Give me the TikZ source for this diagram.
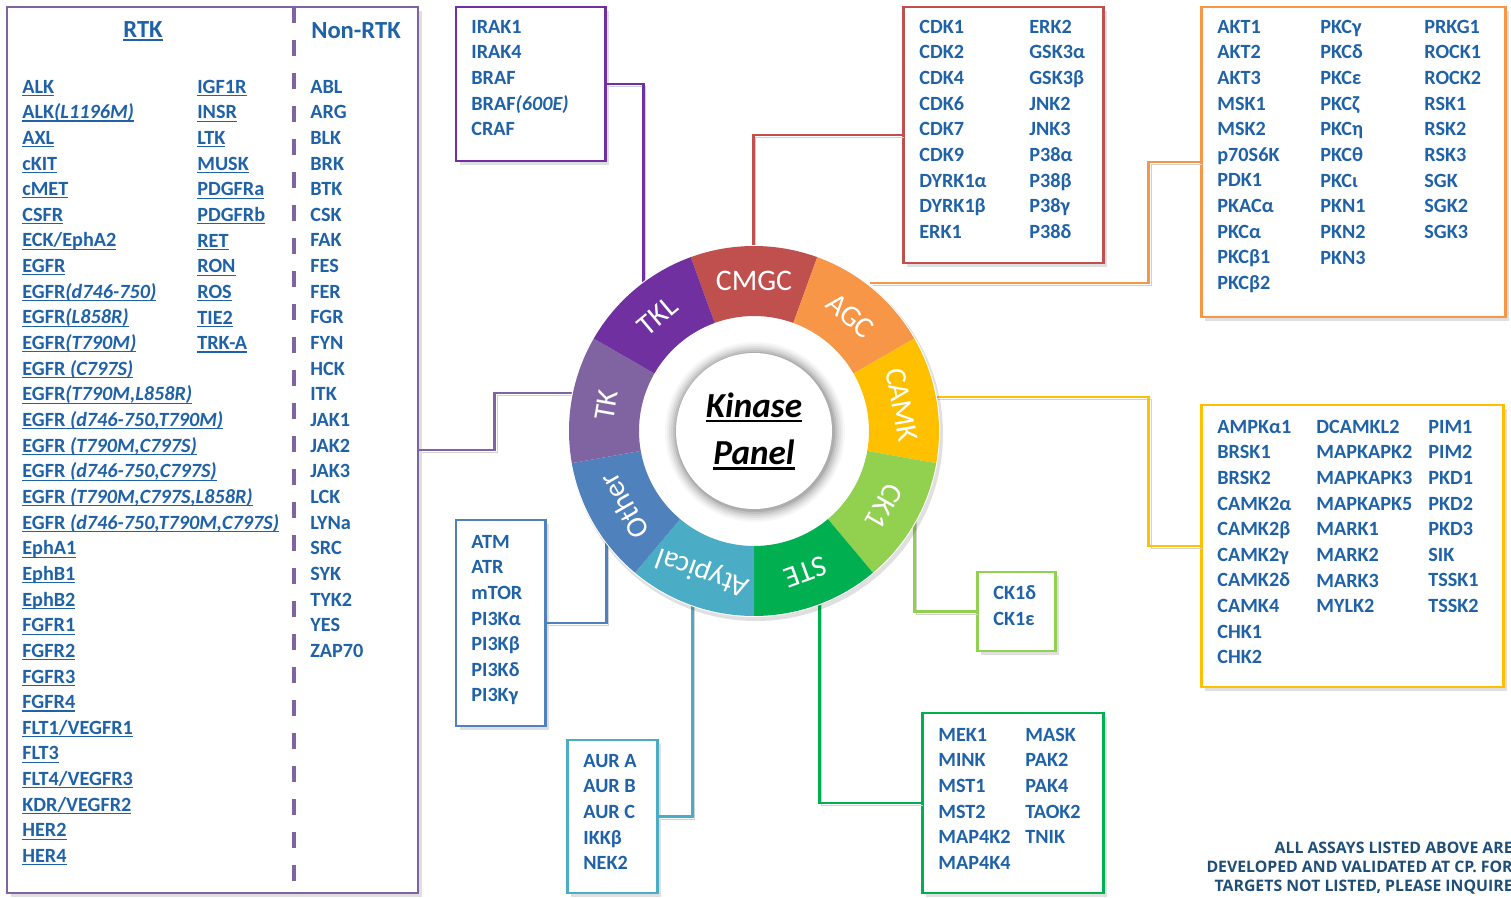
\documentclass[tikz,border=0pt]{standalone}
\usepackage{fontspec}
\setmainfont{Carlito}
\newfontfamily\notefont{Open Sans}
\usetikzlibrary{fit,shadows}
\definecolor{ink}{HTML}{1F62A8}
\definecolor{noteink}{HTML}{1F4E79}
\definecolor{tklc}{HTML}{7030A0}
\definecolor{cmgcc}{HTML}{C0504D}
\definecolor{agcc}{HTML}{F79646}
\definecolor{camkc}{HTML}{FFC000}
\definecolor{ckc}{HTML}{92D050}
\definecolor{stec}{HTML}{00B050}
\definecolor{atyc}{HTML}{4BACC6}
\definecolor{othc}{HTML}{4F81BD}
\definecolor{tkc}{HTML}{8064A2}
\newcommand{\listfont}{\fontsize{11.5}{14.6}\selectfont\bfseries}
% underline of fixed depth
\newcommand{\uln}[2][0.6pt]{\setbox0=\hbox{#2}\rlap{\rule[-0.14em]{\wd0}{#1}}\box0}

\begin{document}
\begin{tikzpicture}[x=0.02cm,y=-0.02cm,
  box/.style={draw=#1,line width=1.7pt,fill=white,inner sep=0pt,
    drop shadow={opacity=0.25,shadow xshift=2pt,shadow yshift=-2pt}},
  items/.style={anchor=north west,inner sep=0pt,align=left,font=\listfont,text=ink,
    yshift=0.128cm,execute at begin node=\strut},
  head/.style={font=\fontsize{14}{16}\selectfont\bfseries,text=ink,inner sep=0pt},
  link/.style={line width=1.7pt,preaction={draw=black!18,transform canvas={shift={(1.5pt,-1.5pt)}}}},
  seglab/.style={text=white,font=\fontsize{17}{20}\selectfont,inner sep=0pt}]
  \useasboundingbox[fill=white] (0,0) rectangle (1511,898);

  % ---- RTK / Non-RTK panel ----
  \node[box=tkc,fit={(7,7) (418,893)}] (rtk) {};
  \draw[tkc,line width=2.2pt,dash pattern=on 0.32cm off 0.34cm] (294,7) -- (294,893);
  \node[head] (rtkhead) at (143,31) {\uln[0.8pt]{RTK}};
  \node[head] (nonrtkhead) at (356,31) {Non-RTK};
  \node[items] (rtkA) at (22,86) {\uln{ALK}\\\uln{ALK\textit{(L1196M)}}\\\uln{AXL}\\\uln{cKIT}\\\uln{cMET}\\\uln{CSFR}\\\uln{ECK/EphA2}\\\uln{EGFR}\\\uln{EGFR\textit{(d746-750)}}\\\uln{EGFR\textit{(L858R)}}\\\uln{EGFR\textit{(T790M)}}\\\uln{EGFR \textit{(C797S)}}\\\uln{EGFR\textit{(T790M,L858R)}}\\\uln{EGFR \textit{(d746-750,T790M)}}\\\uln{EGFR \textit{(T790M,C797S)}}\\\uln{EGFR \textit{(d746-750,C797S)}}\\\uln{EGFR \textit{(T790M,C797S,L858R)}}\\\uln{EGFR \textit{(d746-750,T790M,C797S)}}\\\uln{EphA1}\\\uln{EphB1}\\\uln{EphB2}\\\uln{FGFR1}\\\uln{FGFR2}\\\uln{FGFR3}\\\uln{FGFR4}\\\uln{FLT1/VEGFR1}\\\uln{FLT3}\\\uln{FLT4/VEGFR3}\\\uln{KDR/VEGFR2}\\\uln{HER2}\\\uln{HER4}};
  \node[items] (rtkB) at (197,86) {\uln{IGF1R}\\\uln{INSR}\\\uln{LTK}\\\uln{MUSK}\\\uln{PDGFRa}\\\uln{PDGFRb}\\\uln{RET}\\\uln{RON}\\\uln{ROS}\\\uln{TIE2}\\\uln{TRK-A}};
  \node[items] (nonrtk) at (310,86) {ABL\\ARG\\BLK\\BRK\\BTK\\CSK\\FAK\\FES\\FER\\FGR\\FYN\\HCK\\ITK\\JAK1\\JAK2\\JAK3\\LCK\\LYNa\\SRC\\SYK\\TYK2\\YES\\ZAP70};

  % ---- family boxes ----
  \node[box=tklc,fit={(456,7) (605,161)}] (tkl) {};
  \node[items] (tklA) at (471,26) {IRAK1\\IRAK4\\BRAF\\BRAF\textit{(600E)}\\CRAF};
  \node[box=cmgcc,fit={(903,7) (1103,263)}] (cmgc) {};
  \node[items] (cmgcA) at (919,26) {CDK1\\CDK2\\CDK4\\CDK6\\CDK7\\CDK9\\DYRK1α\\DYRK1β\\ERK1};
  \node[items] (cmgcB) at (1029,26) {ERK2\\GSK3α\\GSK3β\\JNK2\\JNK3\\P38α\\P38β\\P38γ\\P38δ};
  \node[box=agcc,fit={(1201,7) (1505,317)}] (agc) {};
  \node[items] (agcA) at (1217,26) {AKT1\\AKT2\\AKT3\\MSK1\\MSK2\\p70S6K\\PDK1\\PKACα\\PKCα\\PKCβ1\\PKCβ2};
  \node[items] (agcB) at (1320,26) {PKCγ\\PKCδ\\PKCε\\PKCζ\\PKCη\\PKCθ\\PKCι\\PKN1\\PKN2\\PKN3};
  \node[items] (agcC) at (1424,26) {PRKG1\\ROCK1\\ROCK2\\RSK1\\RSK2\\RSK3\\SGK\\SGK2\\SGK3};
  \node[box=camkc,fit={(1201,405) (1503,687)}] (camk) {};
  \node[items] (camkA) at (1217,426) {AMPKα1\\BRSK1\\BRSK2\\CAMK2α\\CAMK2β\\CAMK2γ\\CAMK2δ\\CAMK4\\CHK1\\CHK2};
  \node[items] (camkB) at (1316,426) {DCAMKL2\\MAPKAPK2\\MAPKAPK3\\MAPKAPK5\\MARK1\\MARK2\\MARK3\\MYLK2};
  \node[items] (camkC) at (1428,426) {PIM1\\PIM2\\PKD1\\PKD2\\PKD3\\SIK\\TSSK1\\TSSK2};
  \node[box=ckc,fit={(977,572) (1055,651)}] (ck1) {};
  \node[items] (ck1A) at (993,592) {CK1δ\\CK1ε};
  \node[box=stec,fit={(922,713) (1103,893)}] (ste) {};
  \node[items] (steA) at (938,734) {MEK1\\MINK\\MST1\\MST2\\MAP4K2\\MAP4K4};
  \node[items] (steB) at (1025,734) {MASK\\PAK2\\PAK4\\TAOK2\\TNIK};
  \node[box=atyc,fit={(567,740) (657,893)}] (aty) {};
  \node[items] (atyA) at (583,760) {AUR A\\AUR B\\AUR C\\IKKβ\\NEK2};
  \node[box=othc,fit={(456,520) (545,726)}] (oth) {};
  \node[items] (othA) at (471,541) {ATM\\ATR\\mTOR\\PI3Kα\\PI3Kβ\\PI3Kδ\\PI3Kγ};

  % ---- connectors (ends hidden under the ring) ----
  \coordinate (hub) at (754,431);
  \coordinate (tkend) at (590,393);
  \coordinate (tklend) at (643,300);
  \coordinate (cmgcend) at (753,260);
  \coordinate (agcend) at (870,283);
  \coordinate (camkend) at (920,397);
  \coordinate (ck1end) at (914,505);
  \coordinate (steend) at (819,590);
  \coordinate (atyend) at (692,595);
  \coordinate (othend) at (606,530);
  \draw[link,tkc] (rtk.east) -- ++(75,0) |- (tkend);
  \draw[link,tklc] (tkl.east) -| (tklend);
  \draw[link,cmgcc] (cmgc.west) -| (cmgcend);
  \draw[link,agcc] (agc.west) -- ++(-51,0) |- (agcend);
  \draw[link,camkc] (camk.west) -- ++(-51,0) |- (camkend);
  \draw[link,ckc] (ck1.west) -| (ck1end);
  \draw[link,stec] (ste.west) -| (steend);
  \draw[link,atyc] (aty.east) -| (atyend);
  \draw[link,othc] (oth.east) -| (othend);

  % ---- kinase wheel ----
  \begin{scope}[shift={(hub)},x=0.02cm,y=0.02cm]
    \fill[black,opacity=0.12] (2,-3) circle (187);
    \fill[white] (0,0) circle (186);
    \foreach \c/\col/\lab in {90/cmgcc/CMGC,50/agcc/AGC,10/camkc/CAMK,-30/ckc/CK1,-70/stec/STE,
        -110/atyc/Atypical,-150/othc/Other,170/tkc/TK,130/tklc/TKL}{
      \fill[\col] (\c-20:185) arc[start angle=\c-20,end angle=\c+20,radius=185]
        -- (\c+20:115) arc[start angle=\c+20,end angle=\c-20,radius=115] -- cycle;
      \node[seglab,rotate=\c-90] (seg-\lab) at (\c:150) {\lab};
    }
    % inner disc with soft shadow
    \foreach \r/\o in {90/0.03,88/0.04,86/0.05,84/0.06,82/0.08,80/0.1}{
      \fill[black,opacity=\o] (1,-1) circle (\r);
    }
    \fill[white] (0,0) circle (78);
  \end{scope}
  \node[font={\fontsize{20}{27}\selectfont\bfseries\itshape},align=center,inner sep=0pt] (title) at (hub) {\uln[1.3pt]{Kinase}\\\uln[1.3pt]{Panel}};

  % ---- note ----
  \node[font={\notefont\bfseries\fontsize{9}{10.8}\selectfont},text=noteink,align=right,anchor=north east,inner sep=0pt,execute at begin node=\strut] (note) at (1513,842) {ALL ASSAYS LISTED ABOVE ARE\\DEVELOPED AND VALIDATED AT CP. FOR\\TARGETS NOT LISTED, PLEASE INQUIRE};
\end{tikzpicture}
\end{document}
